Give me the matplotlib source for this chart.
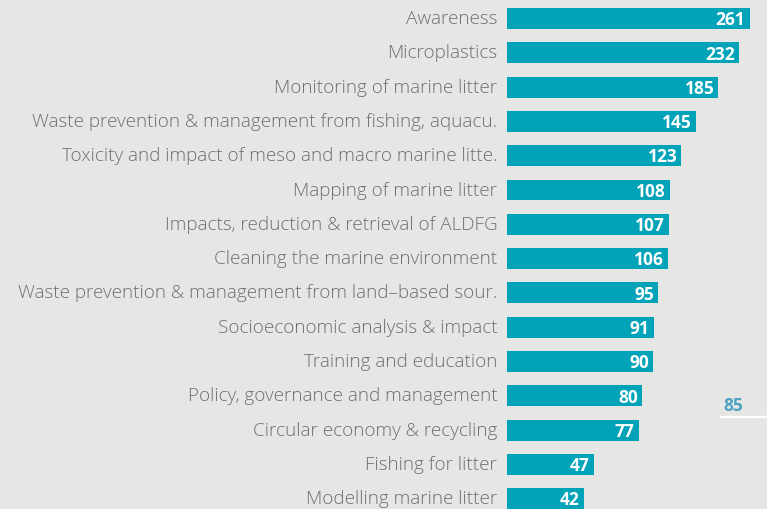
import matplotlib
matplotlib.use("Agg")
import matplotlib.pyplot as plt
import matplotlib.transforms as mtransforms
import numpy as np

# topics and counts, top to bottom
topics = [
    "Awareness",
    "Microplastics",
    "Monitoring of marine litter",
    "Waste prevention & management from fishing, aquacu.",
    "Toxicity and impact of meso and macro marine litte.",
    "Mapping of marine litter",
    "Impacts, reduction & retrieval of ALDFG",
    "Cleaning the marine environment",
    "Waste prevention & management from land\u2013based sour.",
    "Socioeconomic analysis & impact",
    "Training and education",
    "Policy, governance and management",
    "Circular economy & recycling",
    "Fishing for litter",
    "Modelling marine litter",
]
counts = [261, 232, 185, 145, 123, 108, 107, 106, 95, 91, 90, 80, 77, 47, 42]
average = 85

bg = "#e6e6e4"
bar_color = "#00a3b8"
label_color = "#6f6f6f"
base = 18  # left edge of the log axis

W, H = 767, 510
fig = plt.figure(figsize=(W / 100, H / 100), dpi=100, facecolor=bg)
ax = fig.add_axes([507 / W, 0, 260 / W, 1], facecolor=bg)

ypos = np.arange(len(topics))
ax.barh(ypos, np.array(counts) - base, height=0.61, left=base,
        color=bar_color, zorder=2)
ax.set_xscale("log")
ax.set_xlim(base, 316)
ax.set_ylim(14.30, -0.569)

for y, v in zip(ypos, counts):
    ax.annotate(str(v), xy=(v, y), xytext=(-3, -0.5), textcoords="offset points",
                ha="right", va="center", color="white", fontsize=12.5,
                fontweight="bold", family="Open Sans", zorder=3,
                annotation_clip=False)

ax.set_yticks(ypos)
ax.set_yticklabels(topics, fontsize=13.6, color=label_color,
                   family="Open Sans", fontweight="light")
ax.tick_params(axis="y", length=0, pad=7)
# labels sit a touch higher than the bar centres
shift = mtransforms.ScaledTranslation(0, 2.5 / 100, fig.dpi_scale_trans)
for lab in ax.get_yticklabels():
    lab.set_transform(lab.get_transform() + shift)
ax.tick_params(axis="x", length=0, labelbottom=False)
ax.xaxis.set_minor_locator(plt.NullLocator())
for s in ax.spines.values():
    s.set_visible(False)

# average marker on the right
ax.text(0.87, 0.194, str(average), transform=ax.transAxes, ha="center",
        va="baseline", color="#4aa3c0", fontsize=12.5, fontweight="bold",
        family="Open Sans")
ax.plot([0.823, 1.0], [0.181, 0.181], transform=ax.transAxes, color="white",
        lw=1.5, clip_on=False)

fig.savefig("out.png", dpi=100, facecolor=bg)
